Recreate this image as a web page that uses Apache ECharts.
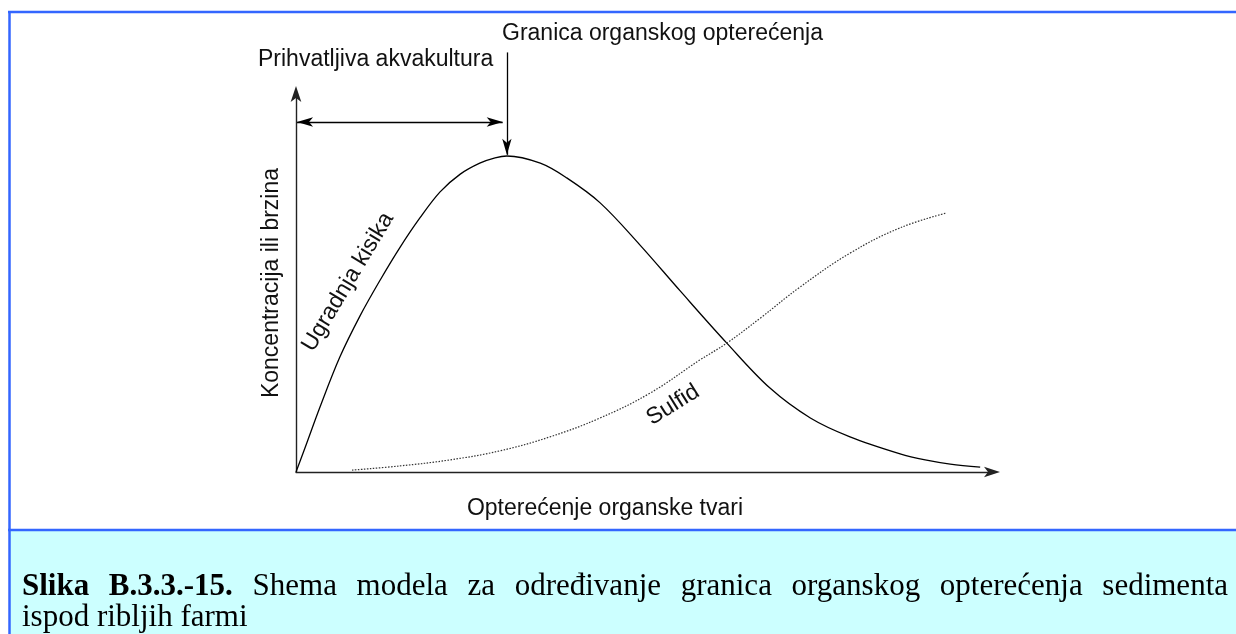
<!DOCTYPE html>
<html>
<head>
<meta charset="utf-8">
<script src="https://cdn.jsdelivr.net/npm/echarts@6/dist/echarts.min.js"></script>
<style>
  html, body { margin: 0; padding: 0; background: #fff; }
  #shema { width: 1236px; height: 634px; }
</style>
</head>
<body>
<div id="shema"></div>
<script>
// ugradnja kisika - ocitano sa slike (x i y u relativnim jedinicama 0-100)
var kisikX = [0, 1.3, 3.45, 6.3, 9.2, 12.1, 14.9, 17.8, 20.7, 23.6, 26.4, 28.6, 30.3, 35.1, 38.9, 43.7, 49.4, 55.2, 61.9, 68.1, 73.9, 79.6, 86.8, 90.4, 94.0, 98.3]
var kisikY = [0, 6.4, 17.2, 30.4, 41.3, 50.8, 59.3, 67.2, 74.1, 78.8, 81.7, 83.1, 83.6, 81.7, 77.8, 71.2, 60.1, 47.9, 34.1, 22.2, 14.3, 9.3, 4.8, 3.2, 2.1, 1.3]

// sulfid
var sulfidX = [8.05, 14.9, 22.1, 29.3, 36.5, 43.7, 50.9, 58.0, 61.9, 66.7, 72.4, 79.6, 86.8, 93.4]
var sulfidY = [0.5, 1.6, 3.2, 5.6, 9.3, 14.3, 20.9, 29.6, 34.1, 40.7, 48.9, 57.9, 64.6, 68.5]

// tekstovi
var nazivX = 'Opterećenje organske tvari'
var nazivY = 'Koncentracija ili brzina'
var oznakaKisik = 'Ugradnja kisika'
var oznakaSulfid = 'Sulfid'
var oznakaPrihvatljivo = 'Prihvatljiva akvakultura'
var oznakaGranica = 'Granica organskog opterećenja'
var potpisBold = ['Slika', 'B.3.3.-15.']
var potpisRed1 = ['Shema', 'modela', 'za', 'određivanje', 'granica', 'organskog', 'opterećenja', 'sedimenta']
var potpisRed2 = 'ispod ribljih farmi'

var chart = echarts.init(document.getElementById('shema'))

// vrh krivulje kisika -> granica
var vrh = 0
kisikY.forEach(function (v, i) { if (v > kisikY[vrh]) vrh = i })
var granicaX = kisikX[vrh]
var granicaY = kisikY[vrh]

var plava = '#3366ff'
var crna = '#111'
var sans = '"Liberation Sans", Arial, sans-serif'
var serif = '"Liberation Serif", "Times New Roman", serif'
var velicina = 23
var velicinaPotpis = 31

// potpis - poravnanje obostrano (justify) za prvi red
var ctx = document.createElement('canvas').getContext('2d')
function sirina(t, bold) {
  ctx.font = (bold ? 'bold ' : '') + velicinaPotpis + 'px "Liberation Serif"'
  return ctx.measureText(t).width
}
var rijeci = potpisBold.map(function (w) { return { t: w, b: true } })
  .concat(potpisRed1.map(function (w) { return { t: w, b: false } }))
var ukupno = 0
rijeci.forEach(function (r) { ukupno += sirina(r.t, r.b) })
var lijevo = 22
var desno = 1228
var razmak = (desno - lijevo - ukupno) / (rijeci.length - 1)

var graphic = [
  // okvir
  { type: 'rect', shape: { x: 10, y: 531, width: 1226, height: 103 }, style: { fill: '#ccffff' }, z: 0 },
  { type: 'line', shape: { x1: 8, y1: 12, x2: 1236, y2: 12 }, style: { stroke: plava, lineWidth: 2.5 } },
  { type: 'line', shape: { x1: 9.5, y1: 11, x2: 9.5, y2: 634 }, style: { stroke: plava, lineWidth: 2.5 } },
  { type: 'line', shape: { x1: 8, y1: 530, x2: 1236, y2: 530 }, style: { stroke: plava, lineWidth: 2.5 } },
  // oznake
  { type: 'text', x: 258, y: 60, style: { text: oznakaPrihvatljivo, fontSize: velicina, fontFamily: sans, fill: crna, align: 'left', verticalAlign: 'middle' } },
  { type: 'text', x: 502, y: 34, style: { text: oznakaGranica, fontSize: velicina, fontFamily: sans, fill: crna, align: 'left', verticalAlign: 'middle' } },
  { type: 'text', x: 348, y: 282, rotation: 59 * Math.PI / 180, style: { text: oznakaKisik, fontSize: velicina, fontFamily: sans, fill: crna, align: 'center', verticalAlign: 'middle' } },
  { type: 'text', x: 673, y: 405, rotation: 32 * Math.PI / 180, style: { text: oznakaSulfid, fontSize: velicina, fontFamily: sans, fill: crna, align: 'center', verticalAlign: 'middle' } },
  { type: 'text', x: lijevo, y: 618, style: { text: potpisRed2, fontSize: velicinaPotpis, fontFamily: serif, fill: '#000', align: 'left', verticalAlign: 'middle' } }
]
var xx = lijevo
rijeci.forEach(function (r) {
  graphic.push({
    type: 'text', x: xx, y: 587,
    style: { text: r.t, fontSize: velicinaPotpis, fontFamily: serif, fontWeight: r.b ? 'bold' : 'normal', fill: '#000', align: 'left', verticalAlign: 'middle' }
  })
  xx += sirina(r.t, r.b) + razmak
})

var strelica = [[7, 16], [7, 16]]

var option = {
  animation: false,
  backgroundColor: '#fff',
  grid: { left: 296, top: 94, width: 696, height: 378, outerBoundsMode: 'none', containLabel: false },
  xAxis: {
    type: 'value', min: 0, max: 100,
    name: nazivX, nameLocation: 'middle', nameGap: 25,
    nameTextStyle: { fontSize: velicina, fontFamily: sans, color: crna, padding: [0, 78, 0, 0] },
    axisLine: { show: true, symbol: ['none', 'arrow'], symbolSize: [8, 16], symbolOffset: [0, 8], lineStyle: { color: '#222', width: 1.4 } },
    axisTick: { show: false }, axisLabel: { show: false }, splitLine: { show: false }
  },
  yAxis: {
    type: 'value', min: 0, max: 100,
    name: nazivY, nameLocation: 'middle', nameGap: 13, nameRotate: 90,
    nameTextStyle: { fontSize: velicina, fontFamily: sans, color: crna },
    axisLine: { show: true, symbol: ['none', 'arrow'], symbolSize: [8, 16], symbolOffset: [0, 8], lineStyle: { color: '#222', width: 1.4 } },
    axisTick: { show: false }, axisLabel: { show: false }, splitLine: { show: false }
  },
  series: [
    {
      name: oznakaKisik, type: 'line', smooth: 0.35, showSymbol: false, silent: true,
      data: kisikX.map(function (x, i) { return [x, kisikY[i]] }),
      lineStyle: { color: '#000', width: 1.3 }
    },
    {
      name: oznakaSulfid, type: 'line', smooth: 0.4, showSymbol: false, silent: true,
      data: sulfidX.map(function (x, i) { return [x, sulfidY[i]] }),
      lineStyle: { color: '#333', width: 1.2, type: [1.5, 1.5] }
    },
    {
      type: 'lines', coordinateSystem: 'cartesian2d', clip: false, silent: true,
      symbolSize: strelica,
      lineStyle: { color: '#000', width: 1.3, opacity: 1, curveness: 0 },
      data: [
        { coords: [[0.15, 92.6], [granicaX - 0.6, 92.6]], symbol: ['arrow', 'arrow'] },
        { coords: [[granicaX, 111], [granicaX, granicaY + 0.3]], symbol: ['none', 'arrow'] }
      ]
    }
  ],
  graphic: graphic
}
chart.setOption(option)
</script>
</body>
</html>
